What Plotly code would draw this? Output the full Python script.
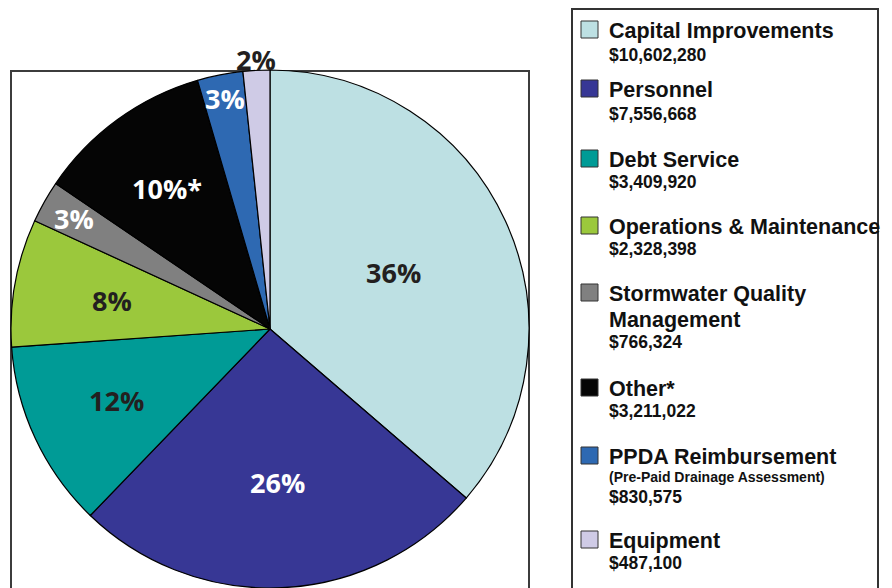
import math
import plotly.graph_objects as go

# ---------------- data ----------------
categories = ["Capital Improvements", "Personnel", "Debt Service",
              "Operations & Maintenance", "Stormwater Quality Management",
              "Other*", "PPDA Reimbursement", "Equipment"]
amounts = [10602280, 7556668, 3409920, 2328398, 766324, 3211022, 830575, 487100]
pct_labels = ["36%", "26%", "12%", "8%", "3%", "10%*", "3%", "2%"]
legend_title_lines = [["Capital Improvements"], ["Personnel"], ["Debt Service"],
                      ["Operations & Maintenance"], ["Stormwater Quality", "Management"],
                      ["Other*"], ["PPDA Reimbursement"], ["Equipment"]]
legend_subtitles = [None, None, None, None, None, None,
                    "(Pre-Paid Drainage Assessment)", None]

# ---------------- styles ----------------
colors = ["#bde0e3", "#373795", "#009b96", "#9bc83c", "#808080",
          "#050505", "#2e69b2", "#cfcbe6"]
label_colors = ["#231f20", "white", "#231f20", "#231f20", "white",
                "white", "white", "#231f20"]
label_radius = [0.526, 0.592, 0.656, 0.619, 0.869, 0.673, 0.907, 1.043]

# page has a default 8px body margin; size figure to fill the visible window
OFF = 8
VW, VH = 892, 588
W, H = VW - OFF, VH - OFF


def px(x):
    return (x - OFF) / W


def py(y):
    return 1 - (y - OFF) / H


# pie placement (window pixels)
pie_left, pie_right, pie_top = 10, 530, 70
dom_x = [px(pie_left), px(pie_right)]
dom_y = [0, py(pie_top)]
cx = (pie_left + pie_right) / 2
r = min(pie_right - pie_left, VH - pie_top) / 2
cy = VH - r

fig = go.Figure()
fig.add_trace(go.Pie(
    labels=categories, values=amounts, sort=False, direction="clockwise",
    rotation=0, textinfo="none", hoverinfo="label+value+percent",
    marker=dict(colors=colors, line=dict(color="#000000", width=1.2)),
    domain=dict(x=dom_x, y=dom_y), showlegend=False))

annotations = []
total = sum(amounts)
cum = 0
for i, v in enumerate(amounts):
    theta = 2 * math.pi * (cum + v / 2) / total
    cum += v
    lx = cx + label_radius[i] * r * math.sin(theta)
    ly = cy - label_radius[i] * r * math.cos(theta)
    annotations.append(dict(
        x=px(lx), y=py(ly), xref="paper", yref="paper", text=pct_labels[i],
        showarrow=False, xanchor="center", yanchor="middle",
        font=dict(family="Open Sans", size=27, color=label_colors[i], weight="bold")))

shapes = []
# box around pie
shapes.append(dict(type="rect", xref="paper", yref="paper",
                   x0=px(11), x1=px(529), y0=py(600), y1=py(71),
                   line=dict(color="#3c3c3c", width=2), layer="below"))
# legend box (top kept just inside the drawable area)
shapes.append(dict(type="rect", xref="paper", yref="paper",
                   x0=px(572), x1=px(878), y0=py(600), y1=py(9),
                   line=dict(color="#333333", width=2), layer="below"))

# legend layout (window-pixel centers of first title line of each entry)
legend_title_y = [31, 90, 160, 227, 294, 389, 457, 541]
text_x = 607
sq_x0, sq_size = 581, 17
title_font = dict(family="Liberation Sans, Arial", size=21.5, color="#111111", weight="bold")
value_font = dict(family="Liberation Sans, Arial", size=17.5, color="#111111", weight="bold")
sub_font = dict(family="Liberation Sans, Arial", size=14, color="#111111", weight="bold")

for i, name_lines in enumerate(legend_title_lines):
    y = legend_title_y[i]
    shapes.append(dict(type="rect", xref="paper", yref="paper",
                       x0=px(sq_x0), x1=px(sq_x0 + sq_size),
                       y0=py(y - 1.5 + sq_size / 2), y1=py(y - 1.5 - sq_size / 2),
                       fillcolor=colors[i], line=dict(color="#333333", width=1)))
    yy = y
    for j, line in enumerate(name_lines):
        if j > 0:
            yy += 26
        annotations.append(dict(x=px(text_x), y=py(yy), xref="paper", yref="paper",
                                text=line, showarrow=False, xanchor="left",
                                yanchor="middle", font=title_font))
    if legend_subtitles[i]:
        yy += 20
        annotations.append(dict(x=px(text_x), y=py(yy), xref="paper", yref="paper",
                                text=legend_subtitles[i], showarrow=False,
                                xanchor="left", yanchor="middle", font=sub_font))
        yy += 20
    else:
        yy += 22 if i not in (0, 1) else 24
    annotations.append(dict(x=px(text_x), y=py(yy), xref="paper", yref="paper",
                            text="${:,}".format(amounts[i]), showarrow=False,
                            xanchor="left", yanchor="middle", font=value_font))

fig.update_layout(width=W, height=H, margin=dict(l=0, r=0, t=0, b=0),
                  paper_bgcolor="white", plot_bgcolor="white",
                  annotations=annotations, shapes=shapes)
fig.write_html("out.html")
